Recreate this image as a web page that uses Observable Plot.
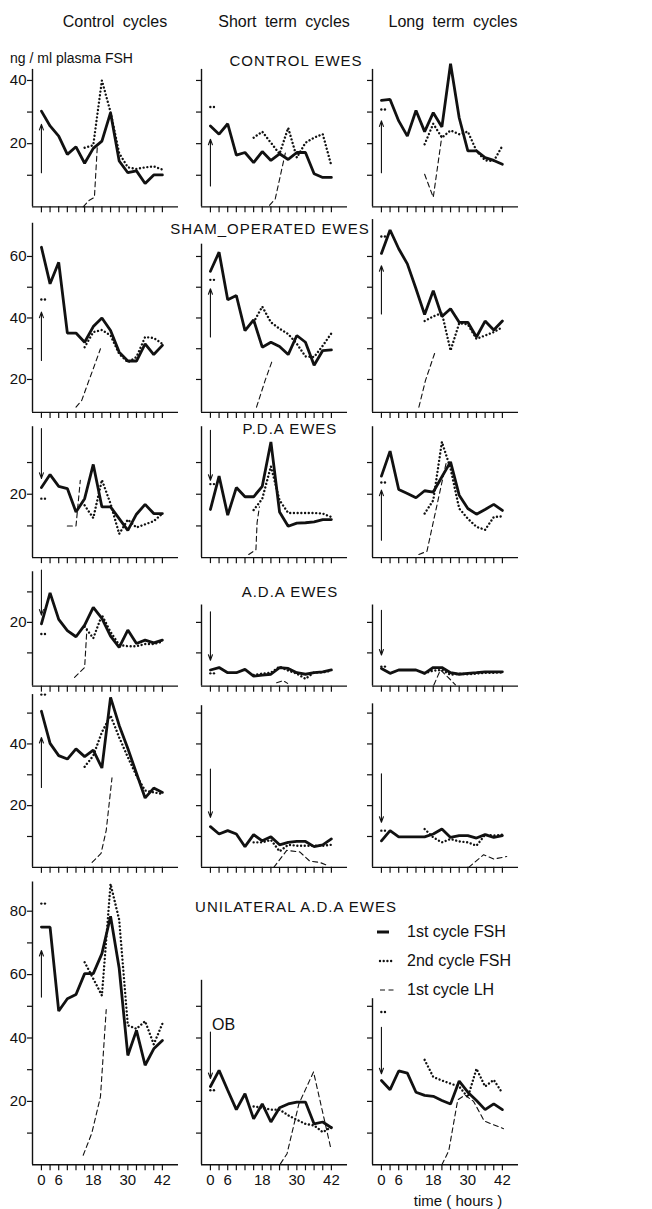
<!DOCTYPE html>
<html><head><meta charset="utf-8">
<script src="https://cdn.jsdelivr.net/npm/d3@7"></script>
<script src="https://cdn.jsdelivr.net/npm/@observablehq/plot@0.6"></script>
<style>
body{margin:0;background:#fff;}
#fig{position:relative;width:652px;height:1209px;font-family:"Liberation Sans",Arial,sans-serif;color:#111;overflow:hidden;}
.lab{position:absolute;white-space:nowrap;transform:translate(-50%,-50%);line-height:1;}
.lft{position:absolute;white-space:nowrap;transform:translate(0,-50%);line-height:1;}
</style></head><body><div id="fig"></div>
<script>
// ---------- DATA ----------
const hours = d3.range(0, 43, 3);          // 1st cycle FSH sampling (h)
const hours2 = d3.range(15, 43, 3);        // 2nd cycle FSH sampling (h)
const xTickLabels = [0, 6, 18, 30, 42];
const columnTitles = ["Control cycles", "Short term cycles", "Long term cycles"];
const rowTitles = ["CONTROL  EWES", "SHAM_OPERATED  EWES", "P.D.A  EWES", "A.D.A  EWES", "", "UNILATERAL  A.D.A  EWES"];
const legendLabels = ["1st  cycle  FSH", "2nd  cycle  FSH", "1st  cycle  LH"];

// Row 1 : control ewes
const r1c1_fsh1 = [30.3, 25.6, 22.4, 16.6, 19.0, 13.8, 18.5, 20.8, 29.8, 14.5, 10.8, 11.4, 7.4, 10.1, 10.1];
const r1c1_fsh2 = [18.7, 19.5, 40, 30, 17, 12.5, 12, 12.5, 12.8, 11.8];
const r1c1_lhT = [14.5, 16.5, 18.4, 19.4], r1c1_lh = [0, 2, 3, 19];
const r1c2_fsh1 = [25.6, 23, 26.3, 16.4, 17.2, 14, 17.5, 14.7, 16.8, 15, 17.2, 17.2, 10.5, 9.3, 9.3];
const r1c2_fsh2 = [21.9, 23.8, 20.3, 16.8, 25, 15.6, 20.3, 21.9, 23, 13];
const r1c2_lhT = [20.5, 22.5, 26], r1c2_lh = [0.5, 2.5, 17];
const r1c3_fsh1 = [33.7, 34, 27.2, 22.4, 30.5, 23.8, 29.8, 25.3, 45.3, 28.2, 17.7, 17.7, 15.6, 14.7, 13.5];
const r1c3_fsh2 = [19.8, 26.3, 21.9, 24.2, 23, 23.8, 17.7, 14.7, 14.5, 19.3];
const r1c3_lhT = [15, 18, 21], r1c3_lh = [10.3, 3, 22.5];
// Row 2 : sham-operated ewes
const r2c1_fsh1 = [63, 51.1, 58.1, 35.1, 35.1, 32.1, 37.2, 40, 35.9, 28.9, 26, 26, 31.6, 28.1, 31.1];
const r2c1_fsh2 = [30.5, 35.4, 36.1, 34.3, 28.3, 25.6, 27.3, 33.8, 33.5, 31.6];
const r2c1_lhT = [12, 14, 16.5, 18, 20.5], r2c1_lh = [11, 13.2, 19.7, 23.5, 30];
const r2c2_fsh1 = [55.2, 61.4, 45.9, 47.3, 35.9, 39.4, 30.5, 32.1, 30.7, 28.1, 34.3, 32.1, 24.6, 29.4, 29.6];
const r2c2_fsh2 = [38.6, 43.7, 38.6, 36.5, 34.8, 31.6, 27.5, 27.3, 31, 35];
const r2c2_lhT = [16, 19, 21.5], r2c2_lh = [11, 19.7, 26.2];
const r2c3_fsh1 = [61, 68.6, 62.5, 57.6, 49.5, 41.1, 48.9, 40.5, 43, 38.6, 38.6, 33.8, 39, 36.1, 39];
const r2c3_fsh2 = [39, 40.5, 41.6, 29.4, 38.3, 37.9, 33.2, 34.3, 35.4, 37];
const r2c3_lhT = [13, 15.3, 18.8], r2c3_lh = [11, 19.7, 29.4];
// Row 3 : P.D.A ewes
const r3c1_fsh1 = [22.1, 26.2, 22.5, 21.8, 14.4, 18.6, 29.4, 16, 16, 12.3, 8.6, 13.7, 16.8, 13.9, 13.9];
const r3c1_fsh2 = [16.5, 12.5, 24.5, 17, 7.5, 12, 9.5, 10.5, 11.5, 13.9];
const r3c1_lhT = [9, 12, 13.5], r3c1_lh = [10, 10, 24.4];
const r3c2_fsh1 = [15.2, 25.7, 13.4, 22.1, 19.2, 19.2, 22.5, 36.5, 14.4, 9.9, 10.9, 11, 11.3, 12, 12];
const r3c2_fsh2 = [15, 18.6, 28.8, 18.1, 14.1, 14.1, 14.1, 14.1, 13.9, 12.8];
const r3c2_lhT = [13.3, 15.8, 16.2, 17], r3c2_lh = [1, 2.5, 11, 16];
const r3c3_fsh1 = [25.7, 33.6, 21.5, 20.2, 18.9, 21.1, 20.7, 25.5, 30.2, 19.7, 15.5, 13.7, 15.2, 16.8, 14.9];
const r3c3_fsh2 = [13.9, 18.1, 36.5, 28.1, 15.5, 12.3, 9.7, 8.8, 12.8, 13];
const r3c3_lhT = [13, 15.8, 22.5], r3c3_lh = [1, 2, 30];
// Row 4 : A.D.A ewes
const r4c1_fsh1 = [19.5, 29.7, 21, 17.3, 15.3, 19.1, 24.9, 21.3, 15.5, 11.8, 17.5, 13.1, 14.2, 13.3, 14.2];
const r4c1_fsh2 = [18.6, 14.8, 22.4, 16.9, 12.6, 12.2, 12.2, 12.9, 12.9, 13.7];
const r4c1_lhT = [11.5, 15, 15.8], r4c1_lh = [2, 5.2, 18];
const r4c2_fsh1 = [4.4, 5.2, 3.5, 3.5, 4.6, 2.4, 2.7, 3, 5.2, 4.9, 3.5, 3, 3.5, 3.8, 4.4];
const r4c2_fsh2 = [2.8, 3.2, 3.5, 5.5, 4.2, 3.2, 1.5, 3.6, 3.6, 4.2];
const r4c2_lhT = [23, 25.2, 26.8], r4c2_lh = [0.2, 0.9, 0];
const r4c3_fsh1 = [4.9, 3.3, 4.4, 4.4, 4.4, 3.3, 5.2, 5.2, 3.5, 3, 3.3, 3.5, 3.8, 3.8, 3.8];
const r4c3_fsh2 = [3.3, 4.2, 4.4, 2.8, 3.2, 3, 3.2, 3.5, 3.5, 3.6];
const r4c3_lhT = [18.2, 20.5, 24, 25.7], r4c3_lh = [-0.5, 4.4, 1.2, -0.5];
// Row 5 : A.D.A ewes (second group)
const r5c1_fsh1 = [50.6, 40.2, 36.2, 35.1, 38.4, 35.9, 38, 32.2, 55.1, 46, 38.5, 30.5, 22.5, 25.7, 24.3];
const r5c1_fsh2 = [32.6, 36.2, 43.8, 49.2, 42.1, 35.7, 29.7, 24.9, 24.3, 23.8];
const r5c1_lhT = [17.6, 20.7, 22.5, 24.5], r5c1_lh = [1.6, 4.5, 12, 29];
const r5c2_fsh1 = [13.2, 10.8, 11.9, 10.8, 6.7, 10.6, 8.6, 9.9, 7.3, 8.1, 8.4, 8.4, 6.7, 7.3, 9.2];
const r5c2_fsh2 = [8.1, 8.1, 8.9, 5.2, 7.3, 7, 7, 7, 7, 7.3];
const r5c2_lhT = [22, 26.5, 31, 34.5, 38, 41], r5c2_lh = [0, 5.5, 5, 2, 1.6, 0.5];
const r5c3_fsh1 = [8.6, 11.9, 9.9, 9.9, 9.9, 9.9, 10.8, 12.4, 9.7, 10.3, 10.3, 9.5, 10.6, 9.7, 10.3];
const r5c3_fsh2 = [12.4, 9.7, 8.1, 9.2, 8.4, 8.1, 7, 10.6, 10.3, 10.6];
const r5c3_lhT = [30.3, 35.5, 39, 43.5], r5c3_lh = [0, 4.1, 2.7, 3.5];
// Row 6 : unilateral A.D.A ewes
const r6c1_fsh1 = [75, 75, 48.5, 52.4, 53.7, 60.3, 60.3, 66.6, 78.4, 62, 34.5, 42.4, 31.4, 36.6, 39.2];
const r6c1_fsh2 = [63.9, 58.7, 53.4, 88.6, 77.3, 44, 42.9, 45.3, 38, 44.5];
const r6c1_lhT = [14.5, 17.5, 20.5, 22.5], r6c1_lh = [3, 10, 21.5, 49];
const r6c2_fsh1 = [24.7, 29.8, 23.5, 17.4, 22.4, 14.5, 19.2, 13.5, 18, 19.2, 19.8, 19.8, 12.9, 13.5, 11.7];
const r6c2_fsh2 = [18.4, 18, 17.4, 17.4, 15.6, 14.2, 12.9, 12.4, 10.3, 11.9];
const r6c2_lhT = [24.3, 26.6, 30.7, 35.8, 41.7], r6c2_lh = [0.3, 3.5, 19.2, 29.3, 5.6];
const r6c3_fsh1 = [26.6, 23.7, 29.6, 28.9, 22.9, 21.9, 21.6, 20.3, 19.2, 26.4, 22.9, 20.3, 17.4, 19.2, 17.4];
const r6c3_fsh2 = [33.1, 27.7, 26.6, 25.6, 24.7, 21.3, 30.3, 24.7, 26.8, 22.6];
const r6c3_lhT = [21, 23.4, 26.5, 29, 32, 35.7, 42.4], r6c3_lh = [0, 4.5, 20.5, 22, 20, 13.8, 11.4];

// arrows at t = 0 (from value, to value), per row, per column
const arrows = [
  [[10.8, 26.1], [6.6, 21.4], [10.8, 27.2]],
  [[26.2, 41.9], [33.8, 49.5], [41.3, 57]],
  [[40.7, 25], [40.2, 24.4], [5.5, 21.3]],
  [[37.2, 22.4], [23.5, 7.6], [24, 9.3]],
  [[25.9, 42.1], [31.9, 16.2], [30.3, 14.6]],
  [[52.9, 67.6], [41.9, 27.2], [43.4, 28.7]]
];
// "**" significance marks near t = 0 (value), null = none
const starMarks = [
  [null, 31.6, 30.8],
  [46, 52.4, 66.5],
  [18.6, 23.2, 23.7],
  [16.2, 3.3, 5.5],
  [56, null, 11.9],
  [82.4, 23.5, 48.2]
];
// y-axis extent (ng/ml) per panel
const axisTops = [
  [43.5, 43.5, 43.5],
  [70.8, 64, 72],
  [41.3, 41.3, 41.3],
  [36.6, 25.7, 25.7],
  [56, 52.4, 53],
  [89.2, 58.2, 52.4]
];
const axisBase = [0, 9.3, 0, -0.9, 0, 0];

// ---------- LAYOUT ----------
const xDomain = [-3.1, 47.6];
const pxPerHour = 2.88;
const colZeroX = [41, 210, 381];
const rowBaseY = [206, 411.9, 557.4, 686, 866.7, 1164.4];
const rowPxPerUnit = [3.16, 3.075, 3.17, 3.05, 3.085, 3.17];
const rowTopVal = [46, 73, 42, 38, 57, 90];
const mL = 30, mR = 6, mT = 8, mB = 30;

const seriesTable = {
  r1c1: [r1c1_fsh1, r1c1_fsh2, r1c1_lhT, r1c1_lh], r1c2: [r1c2_fsh1, r1c2_fsh2, r1c2_lhT, r1c2_lh], r1c3: [r1c3_fsh1, r1c3_fsh2, r1c3_lhT, r1c3_lh],
  r2c1: [r2c1_fsh1, r2c1_fsh2, r2c1_lhT, r2c1_lh], r2c2: [r2c2_fsh1, r2c2_fsh2, r2c2_lhT, r2c2_lh], r2c3: [r2c3_fsh1, r2c3_fsh2, r2c3_lhT, r2c3_lh],
  r3c1: [r3c1_fsh1, r3c1_fsh2, r3c1_lhT, r3c1_lh], r3c2: [r3c2_fsh1, r3c2_fsh2, r3c2_lhT, r3c2_lh], r3c3: [r3c3_fsh1, r3c3_fsh2, r3c3_lhT, r3c3_lh],
  r4c1: [r4c1_fsh1, r4c1_fsh2, r4c1_lhT, r4c1_lh], r4c2: [r4c2_fsh1, r4c2_fsh2, r4c2_lhT, r4c2_lh], r4c3: [r4c3_fsh1, r4c3_fsh2, r4c3_lhT, r4c3_lh],
  r5c1: [r5c1_fsh1, r5c1_fsh2, r5c1_lhT, r5c1_lh], r5c2: [r5c2_fsh1, r5c2_fsh2, r5c2_lhT, r5c2_lh], r5c3: [r5c3_fsh1, r5c3_fsh2, r5c3_lhT, r5c3_lh],
  r6c1: [r6c1_fsh1, r6c1_fsh2, r6c1_lhT, r6c1_lh], r6c2: [r6c2_fsh1, r6c2_fsh2, r6c2_lhT, r6c2_lh], r6c3: [r6c3_fsh1, r6c3_fsh2, r6c3_lhT, r6c3_lh]
};

const fig = document.getElementById("fig");
const FONT = "'Liberation Sans', Arial, sans-serif";
const DOTS = "0.01,3.7";

for (let r = 0; r < 6; r++) {
  for (let c = 0; c < 3; c++) {
    const [f1, f2, lhT, lhV] = seriesTable[`r${r+1}c${c+1}`];
    const yb = axisBase[r], yt = rowTopVal[r], k = rowPxPerUnit[r];
    const plotW = (xDomain[1] - xDomain[0]) * pxPerHour;
    const plotH = (yt - yb) * k;
    const width = mL + plotW + mR, height = mT + plotH + mB;
    const top = rowBaseY[r] - plotH - mT;
    const left = colZeroX[c] + xDomain[0] * pxPerHour - mL;
    const d1 = hours.map((t, i) => ({t, v: f1[i]}));
    const d2 = hours2.map((t, i) => ({t, v: f2[i]}));
    const dl = lhT.map((t, i) => ({t, v: lhV[i]}));
    const aTop = axisTops[r][c];
    const yTicks = d3.range(10, aTop - 2, 10).filter(v => v > yb + 4);
    const arrow = [{t: 0, from: arrows[r][c][0], to: arrows[r][c][1]}];
    const star = starMarks[r][c] == null ? [] : [{t: 0.6, v: starMarks[r][c]}];
    const isBottom = r === 5;
    const marks = [
      Plot.ruleY([yb], {x1: xDomain[0], x2: xDomain[1], stroke: "#111", strokeWidth: 1.4}),
      Plot.ruleX([xDomain[0]], {y1: yb, y2: aTop, stroke: "#111", strokeWidth: 1.4}),
      Plot.axisX(hours, {label: null, tickSize: 6, strokeWidth: 1.2, tickPadding: 4, fontSize: 15,
        tickFormat: d => (isBottom && xTickLabels.includes(d)) ? String(d) : ""}),
      Plot.axisY(yTicks, {label: null, tickSize: 5, strokeWidth: 1.2, tickPadding: 1, fontSize: 15,
        tickFormat: d => (c === 0 && d % 20 === 0) ? String(d) : ""}),
      Plot.line(dl, {x: "t", y: "v", stroke: "#111", strokeWidth: 1.1, strokeDasharray: "5,3.5"}),
      Plot.line(d2, {x: "t", y: "v", stroke: "#111", strokeWidth: 2.4, strokeDasharray: DOTS, strokeLinecap: "round"}),
      Plot.line(d1, {x: "t", y: "v", stroke: "#111", strokeWidth: 2.8, strokeLinejoin: "miter"}),
      Plot.arrow(arrow, {x1: "t", x2: "t", y1: "from", y2: "to", stroke: "#111", strokeWidth: 1.1, headLength: 8, headAngle: 40}),
      Plot.dot(star, {x: "t", y: "v", r: 1.2, fill: "#111", dx: -1.8}),
      Plot.dot(star, {x: "t", y: "v", r: 1.2, fill: "#111", dx: 1.8})
    ];
    const svg = Plot.plot({
      width, height,
      marginLeft: mL, marginRight: mR, marginTop: mT, marginBottom: mB,
      x: {domain: xDomain, label: null},
      y: {domain: [yb, yt], label: null},
      style: {background: "transparent", overflow: "visible", fontFamily: FONT, color: "#111"},
      marks
    });
    svg.style.position = "absolute";
    svg.style.left = left + "px";
    svg.style.top = top + "px";
    svg.style.maxWidth = "none";
    fig.appendChild(svg);
  }
}

// ---------- TEXT ----------
function addLabel(text, x, y, size, cls = "lab", extra = "") {
  const d = document.createElement("div");
  d.className = cls;
  d.textContent = text;
  d.style.left = x + "px";
  d.style.top = y + "px";
  d.style.fontSize = size + "px";
  d.style.cssText += extra;
  fig.appendChild(d);
}
const titleX = [115, 284, 453];
columnTitles.forEach((t, i) => addLabel(t, titleX[i], 22, 16, "lab", "word-spacing:4px;"));
addLabel("ng / ml  plasma  FSH", 10, 58, 14, "lft");
const rowTitlePos = [[296, 60], [270, 228], [290, 428], [290, 591], null, [296, 906]];
rowTitles.forEach((t, i) => { if (t) addLabel(t, rowTitlePos[i][0], rowTitlePos[i][1], 15, "lab", "letter-spacing:1px;"); });
addLabel("OB", 212, 1025, 16, "lft");
addLabel("time  ( hours )", 458, 1200, 15, "lab");

// legend
const legY = [932, 961, 990];
const styles = [
  {w: 3, dash: null, x1: 377, x2: 389, cap: "butt"},
  {w: 2.4, dash: DOTS, x1: 380, x2: 394, cap: "round"},
  {w: 1.1, dash: "5,3.5", x1: 380, x2: 396, cap: "butt"}
];
const legSvg = d3.create("svg").attr("width", 652).attr("height", 1209)
  .style("position", "absolute").style("left", "0px").style("top", "0px").style("pointer-events", "none");
legendLabels.forEach((t, i) => {
  const s = styles[i];
  const ln = legSvg.append("line").attr("x1", s.x1).attr("x2", s.x2).attr("y1", legY[i]).attr("y2", legY[i])
    .attr("stroke", "#111").attr("stroke-width", s.w).attr("stroke-linecap", s.cap);
  if (s.dash) ln.attr("stroke-dasharray", s.dash);
  addLabel(t, 407, legY[i], 16, "lft");
});
fig.appendChild(legSvg.node());
</script>
</body></html>
